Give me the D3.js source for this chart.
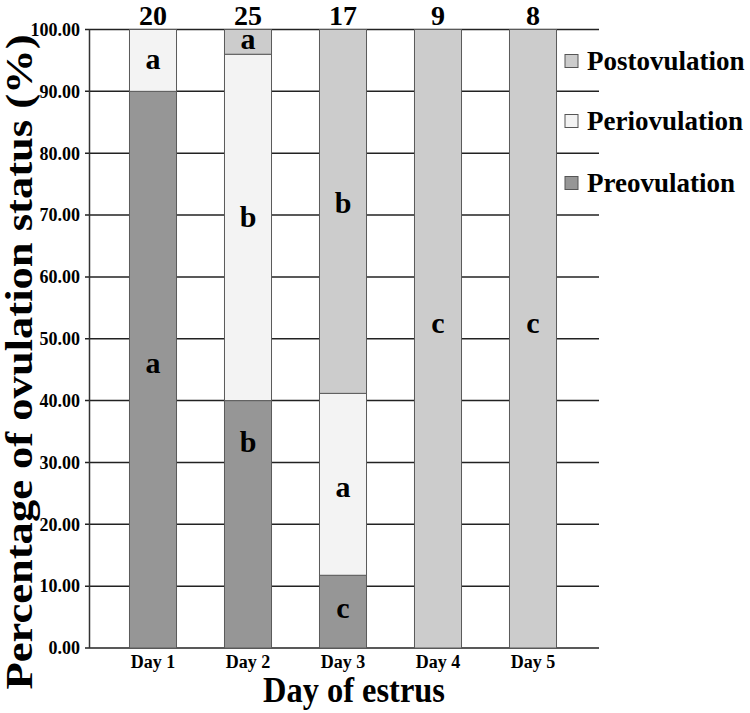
<!DOCTYPE html>
<html><head><meta charset="utf-8">
<script src="https://cdn.jsdelivr.net/npm/d3@7"></script>
<style>body{margin:0;background:#fff}svg{display:block}text{font-family:"Liberation Serif","Times New Roman",serif;font-weight:bold}</style>
</head><body><svg id="c" width="750" height="713"></svg>
<script>
const days = ["Day 1","Day 2","Day 3","Day 4","Day 5"];
const counts = [20,25,17,9,8];
const seriesNames = ["Preovulation","Periovulation","Postovulation"];
const preovulation = [90, 40, 11.76, 0, 0];
const periovulation = [10, 56, 29.41, 0, 0];
const postovulation = [0, 4, 58.83, 100, 100];
const yTicks = [0,10,20,30,40,50,60,70,80,90,100];
// significance letters: day index, letter, baseline value (%)
const letterDay = [0,0,1,1,1,2,2,2,3,4];
const letterText = ["a","a","a","b","b","b","a","c","c","c"];
const letterValue = [93.6,44.4,96.8,68.0,31.7,70.4,24.4,4.8,51.0,51.0];

const colors = {Preovulation:"#969696", Periovulation:"#f3f3f3", Postovulation:"#cccccc"};
const svg = d3.select("#c");
const x = d3.scaleBand().domain(days).range([105.5,580.5]).paddingInner(0.505).paddingOuter(0.2525);
const y = d3.scaleLinear().domain([0,100]).range([648,29.5]);
const rows = days.map((d,i)=>({day:d, Preovulation:preovulation[i], Periovulation:periovulation[i], Postovulation:postovulation[i]}));
const stack = d3.stack().keys(seriesNames)(rows);

// gridlines
svg.append("g").selectAll("line").data(yTicks).join("line")
  .attr("x1",85).attr("x2",599).attr("y1",d=>y(d)).attr("y2",d=>y(d))
  .attr("stroke","#222").attr("stroke-width",1.5);
// y tick labels
svg.append("g").selectAll("text").data(yTicks).join("text")
  .attr("x",80).attr("y",d=>y(d)).attr("dy","0.35em").attr("text-anchor","end")
  .attr("font-size",18).text(d=>d3.format(".2f")(d));
// axis line
svg.append("line").attr("x1",89.5).attr("x2",89.5).attr("y1",y(100)).attr("y2",y(0)).attr("stroke","#333").attr("stroke-width",1.5);

// bars
svg.append("g").selectAll("g").data(stack).join("g").attr("fill",s=>colors[s.key])
  .selectAll("rect").data(s=>s.filter(p=>p[1]-p[0]>0)).join("rect")
  .attr("x",p=>x(p.data.day)).attr("width",x.bandwidth())
  .attr("y",p=>y(p[1])).attr("height",p=>y(p[0])-y(p[1]))
  .attr("stroke","#5a5a5a").attr("stroke-width",1);

// letters
svg.append("g").selectAll("text").data(letterText).join("text")
  .attr("x",(d,i)=>x(days[letterDay[i]])+x.bandwidth()/2)
  .attr("y",(d,i)=>y(letterValue[i])).attr("text-anchor","middle")
  .attr("font-size",30).attr("fill","#000").text(d=>d);

// counts on top
svg.append("g").selectAll("text").data(counts).join("text")
  .attr("x",(d,i)=>x(days[i])+x.bandwidth()/2).attr("y",25)
  .attr("text-anchor","middle").attr("font-size",28).text(d=>d);

// x labels
svg.append("g").selectAll("text").data(days).join("text")
  .attr("x",d=>x(d)+x.bandwidth()/2).attr("y",668).attr("text-anchor","middle")
  .attr("font-size",18).text(d=>d);

// axis titles
svg.append("text").attr("x",354).attr("y",702).attr("text-anchor","middle")
  .attr("font-size",35).attr("textLength",182).attr("lengthAdjust","spacingAndGlyphs").text("Day of estrus");
svg.append("text").attr("transform","translate(32,362) rotate(-90)").attr("text-anchor","middle")
  .attr("font-size",37).attr("textLength",655).attr("lengthAdjust","spacingAndGlyphs")
  .text("Percentage of ovulation status (%)");

// legend
const legendOrder = ["Postovulation","Periovulation","Preovulation"];
const legendY = [61,121,183];
const lg = svg.append("g").selectAll("g").data(legendOrder).join("g")
  .attr("transform",(d,i)=>`translate(565,${legendY[i]})`);
lg.append("rect").attr("x",0).attr("y",-6.5).attr("width",13).attr("height",13)
  .attr("fill",d=>colors[d]).attr("stroke","#555").attr("stroke-width",1);
lg.append("text").attr("x",22).attr("y",9).attr("font-size",27).text(d=>d);
</script></body></html>
